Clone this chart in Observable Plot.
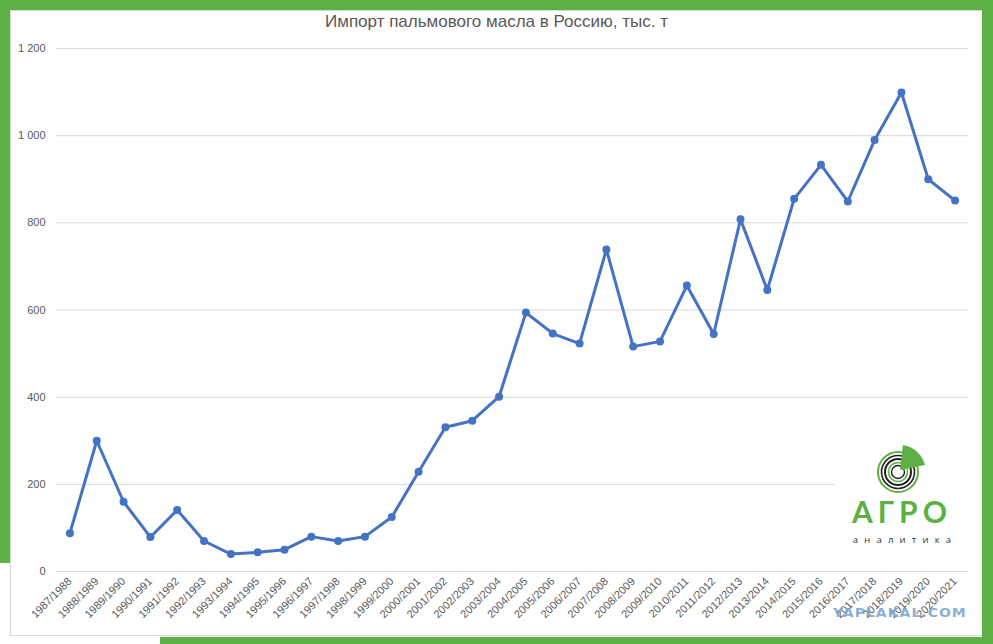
<!DOCTYPE html>
<html><head><meta charset="utf-8">
<script src="https://cdn.jsdelivr.net/npm/d3@7"></script>
<script src="https://cdn.jsdelivr.net/npm/@observablehq/plot@0.6"></script>
<style>
body{margin:0;background:#fff;font-family:"Liberation Sans",Arial,sans-serif;}
#page{position:relative;width:993px;height:644px;overflow:hidden;background:#fff;}
#title{position:absolute;left:0;top:10px;width:993px;height:24px;line-height:24px;text-align:center;font-size:17px;color:#595959;z-index:2;}
#chart{position:absolute;left:0;top:34px;width:993px;z-index:1;}
.g{position:absolute;background:#5db043;z-index:5;}
#border{position:absolute;left:10px;top:10px;width:971px;height:624px;border:1px solid #d9d9d9;z-index:0;}
#logo{position:absolute;left:835px;top:440px;z-index:3;}
#wm{position:absolute;left:833px;top:605px;white-space:nowrap;font-family:"DejaVu Sans",sans-serif;font-weight:bold;font-size:12.5px;letter-spacing:0.9px;color:rgba(120,165,205,0.9);transform-origin:0 0;transform:scaleX(1.12);z-index:4;}
</style></head><body>
<div id="page">
  <div id="border"></div>
  <div id="title">Импорт пальмового масла в Россию, тыс. т</div>
  <div id="chart"></div>
  <svg id="logo" width="135" height="120" viewBox="0 0 135 120">
    <rect x="0" y="0" width="135" height="120" fill="#fff"/>
    <g transform="translate(63,32)" fill="none">
      <circle r="20" stroke="#5db043" stroke-width="2"/>
      <circle r="16.5" stroke="#222" stroke-width="1.6"/>
      <circle r="13" stroke="#222" stroke-width="2"/>
      <circle r="9.5" stroke="#5db043" stroke-width="1.6"/>
      <circle r="6.5" stroke="#222" stroke-width="1.4"/>
      <path d="M2,-2 L5,-27 A27,27 0 0 1 27,-7 Z" fill="#5db043" stroke="none"/>
    </g>
    <text x="67" y="83" text-anchor="middle" font-family="Lato, 'Open Sans', sans-serif" font-weight="bold" font-size="30" letter-spacing="5" fill="#5db043">АГРО</text>
    <text x="70" y="103" text-anchor="middle" font-family="'Open Sans', sans-serif" font-size="9.5" letter-spacing="6.2" fill="#333">аналитика</text>
  </svg>
  <div id="wm">YAPLAKAL.COM</div>
  <div class="g" style="left:0;top:0;width:993px;height:10px"></div>
  <div class="g" style="left:0;top:0;width:10px;height:563px"></div>
  <div class="g" style="left:982px;top:0;width:11px;height:644px"></div>
  <div class="g" style="left:160px;top:637px;width:833px;height:7px"></div>
</div>
<script>
const seasons = ["1987/1988","1988/1989","1989/1990","1990/1991","1991/1992","1992/1993","1993/1994","1994/1995","1995/1996","1996/1997","1997/1998","1998/1999","1999/2000","2000/2001","2001/2002","2002/2003","2003/2004","2004/2005","2005/2006","2006/2007","2007/2008","2008/2009","2009/2010","2010/2011","2011/2012","2012/2013","2013/2014","2014/2015","2015/2016","2016/2017","2017/2018","2018/2019","2019/2020","2020/2021"];
const imports = [88,300,160,79,141,70,40,44,50,80,70,80,125,229,331,346,401,594,546,523,739,516,528,656,545,808,646,855,933,849,990,1099,900,851];
const yTicks = [0,200,400,600,800,1000,1200];

const data = seasons.map((s,i)=>({idx:i, season:s, value:imports[i]}));
const xTicks = seasons.map((s,i)=>i);
const fmt = d => d3.format(",")(d).replace(/,/g," ");

const plot = Plot.plot({
  width: 993, height: 610,
  marginTop: 14, marginBottom: 73, marginLeft: 56, marginRight: 25,
  style: {fontFamily: "'Liberation Sans', Arial, sans-serif", fontSize: "11px", color: "#595959", background: "transparent", overflow: "visible"},
  x: {type: "linear", domain: [-0.5, seasons.length - 0.5], label: null},
  y: {domain: [0,1200], label: null},
  marks: [
    Plot.ruleY(yTicks, {stroke: "#d9d9d9", strokeWidth: 1}),
    Plot.axisY({ticks: yTicks, tickSize: 0, tickPadding: 11, tickFormat: fmt, fontSize: 11, fill: "#595959"}),
    Plot.axisX({ticks: xTicks, tickFormat: i => seasons[i], tickSize: 0, tickRotate: -45, tickPadding: 8, fontSize: 11, fill: "#595959"}),
    Plot.line(data, {x: "idx", y: "value", stroke: "#4472C4", strokeWidth: 3}),
    Plot.dot(data, {x: "idx", y: "value", fill: "#4472C4", r: 4})
  ]
});
document.getElementById("chart").appendChild(plot);
</script>
</body></html>
